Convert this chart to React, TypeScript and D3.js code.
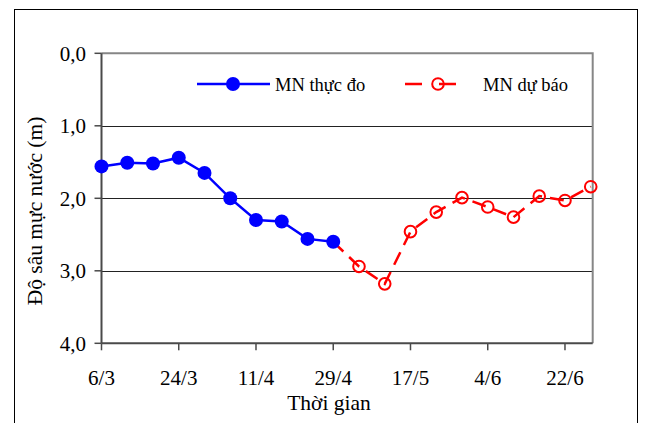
import React from "react";
import * as d3 from "d3";

const measuredDates = ["6/3", "12/3", "18/3", "24/3", "30/3", "5/4", "11/4", "17/4", "23/4", "29/4"];
const measuredDepth = [1.56, 1.51, 1.52, 1.44, 1.65, 2.0, 2.3, 2.32, 2.56, 2.6];

const forecastDates = ["29/4", "5/5", "11/5", "17/5", "23/5", "29/5", "4/6", "10/6", "16/6", "22/6", "28/6"];
const forecastDepth = [2.6, 2.94, 3.18, 2.46, 2.19, 1.99, 2.12, 2.26, 1.97, 2.03, 1.84];

const xTickLabels = ["6/3", "24/3", "11/4", "29/4", "17/5", "4/6", "22/6"];
const yTicks = [0, 1, 2, 3, 4];

const seriesNames = ["MN thực đo", "MN dự báo"];
const axisTitles = { x: "Thời gian", y: "Độ sâu mực nước (m)" };

const parse = (s: string) => d3.utcParse("%d/%m/%Y")(s + "/2009") as Date;

export default function App() {
  const W = 653;
  const H = 423;
  const left = 101.5;
  const right = 592.7;
  const top = 53.3;
  const bottom = 343.3;
  const font = "'Liberation Serif', 'Times New Roman', serif";

  const x = d3
    .scaleUtc()
    .domain([parse("6/3"), d3.utcHour.offset(parse("28/6"), 11)])
    .range([left, right]);
  const y = d3.scaleLinear().domain([0, 4]).range([top, bottom]);

  const mData = measuredDates.map((d, i) => ({ d: parse(d), v: measuredDepth[i] }));
  const fData = forecastDates.map((d, i) => ({ d: parse(d), v: forecastDepth[i] }));

  const line = d3
    .line<{ d: Date; v: number }>()
    .x((p) => x(p.d))
    .y((p) => y(p.v));

  const fmt = (v: number) => d3.format(".1f")(v).replace(".", ",");

  return (
    <svg
      width={W}
      height={H}
      style={{ position: "absolute", left: 0, top: 0, background: "#fff" }}
      fontFamily={font}
    >
      <rect x={0} y={0} width={W} height={H} fill="#fff" />
      <rect x={14.5} y={9.5} width={623} height={500} fill="none" stroke="#000" strokeWidth={1} />

      {/* gridlines */}
      {yTicks
        .filter((t) => t > 0 && t < 4)
        .map((t) => (
          <line key={t} x1={left} x2={right} y1={Math.round(y(t)) + 0.5} y2={Math.round(y(t)) + 0.5} stroke="#222" strokeWidth={1} />
        ))}

      {/* plot border top/right */}
      <path d={`M${left},${top}H${right}V${bottom}`} fill="none" stroke="#868686" strokeWidth={2} />

      {/* axes */}
      <line x1={left} x2={left} y1={top} y2={bottom} stroke="#4a4a4a" strokeWidth={2} />
      <line x1={left} x2={right} y1={bottom} y2={bottom} stroke="#4a4a4a" strokeWidth={2} />

      {yTicks.map((t) => (
        <g key={t}>
          <line x1={left - 7} x2={left} y1={y(t)} y2={y(t)} stroke="#4a4a4a" strokeWidth={1.5} />
          <text x={86} y={y(t)} dy="0.35em" textAnchor="end" fontSize={21} fill="#000">
            {fmt(t)}
          </text>
        </g>
      ))}

      {xTickLabels.map((s) => (
        <g key={s}>
          <line x1={x(parse(s))} x2={x(parse(s))} y1={bottom} y2={bottom + 7} stroke="#4a4a4a" strokeWidth={1.5} />
          <text x={x(parse(s))} y={385} textAnchor="middle" fontSize={21} fill="#000">
            {s}
          </text>
        </g>
      ))}

      <text x={329} y={410} textAnchor="middle" fontSize={21.5} fill="#000">
        {axisTitles.x}
      </text>
      <text
        transform={`translate(42,211) rotate(-90)`}
        textAnchor="middle"
        fontSize={21.5}
        fill="#000"
      >
        {axisTitles.y}
      </text>

      {/* forecast series */}
      <path d={line(fData) || ""} fill="none" stroke="#ff0000" strokeWidth={2.5} strokeDasharray="14,8" />
      {fData.slice(1).map((p, i) => (
        <circle key={i} cx={x(p.d)} cy={y(p.v)} r={5.8} fill="none" stroke="#ff0000" strokeWidth={2} />
      ))}

      {/* measured series */}
      <path d={line(mData) || ""} fill="none" stroke="#0000ff" strokeWidth={2.5} />
      {mData.map((p, i) => (
        <circle key={i} cx={x(p.d)} cy={y(p.v)} r={7} fill="#0000ff" />
      ))}

      {/* legend */}
      <line x1={197} x2={270} y1={84} y2={84} stroke="#0000ff" strokeWidth={2.5} />
      <circle cx={233} cy={84} r={7} fill="#0000ff" />
      <text x={275} y={91} fontSize={18.5} fill="#000">
        {seriesNames[0]}
      </text>

      <line x1={405} x2={473} y1={84} y2={84} stroke="#ff0000" strokeWidth={2.5} strokeDasharray="17,17" />
      <circle cx={438} cy={84} r={5.8} fill="none" stroke="#ff0000" strokeWidth={2} />
      <text x={483} y={91} fontSize={18.5} fill="#000">
        {seriesNames[1]}
      </text>
    </svg>
  );
}
